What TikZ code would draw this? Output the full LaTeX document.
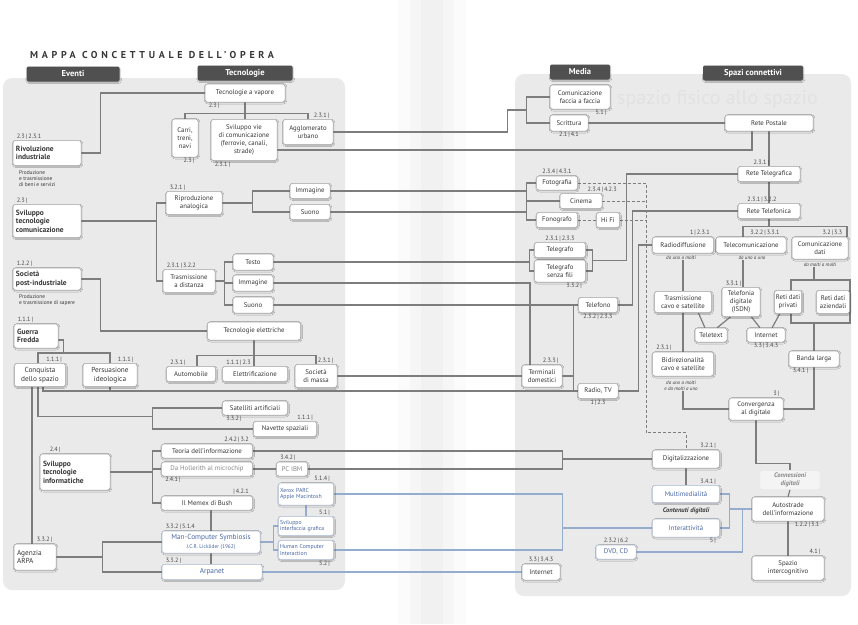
\documentclass[tikz,border=0pt]{standalone}
\usepackage{fontspec}
\setmainfont{PT Sans}
\newfontfamily\titlefont[LetterSpace=37]{PT Sans}
\usepackage{tikz}
\usetikzlibrary{positioning, calc, backgrounds, shadows.blur}
\usepackage{xcolor}
\definecolor{hdrgray}{RGB}{80,80,80}
\definecolor{boxline}{RGB}{165,165,165}
\definecolor{boxblue}{RGB}{175,190,215}
\definecolor{linegray}{RGB}{125,125,125}
\definecolor{lineblue}{RGB}{150,172,205}
\definecolor{txtgray}{RGB}{55,55,55}
\definecolor{txtblue}{RGB}{72,102,165}
\definecolor{txtlight}{RGB}{135,135,135}
\definecolor{refgray}{RGB}{70,70,70}
\definecolor{panelgray}{RGB}{234,234,234}
\definecolor{ghost}{RGB}{226,226,226}
\definecolor{gutter1}{RGB}{251,251,251}
\definecolor{gutter2}{RGB}{246,246,246}
\definecolor{gutter3}{RGB}{241,241,241}
\newcommand\fshdr{\fontsize{8.5}{9}\selectfont\bfseries}
\newcommand\fsevt{\fontsize{7.5}{8.6}\selectfont\bfseries}
\newcommand\fsevr{\fontsize{7.3}{8.4}\selectfont}
\newcommand\fsbox{\fontsize{6.8}{7.9}\selectfont}
\newcommand\fssmall{\fontsize{5.8}{6.8}\selectfont}
\newcommand\fsref{\fontsize{6.2}{7}\selectfont}
\newcommand\fsnote{\fontsize{5.4}{6.2}\selectfont}
\newcommand\fsmode{\fontsize{5}{5.8}\selectfont\itshape}
\newcommand\fstag{\fontsize{6.6}{7.4}\selectfont\bfseries\itshape}
\tikzset{
  % soft drop shadow for the boxes
  softshadow/.style={blur shadow={shadow xshift=0.6pt, shadow yshift=-0.8pt,
    shadow blur radius=1.2pt, shadow blur steps=4, shadow opacity=30}},
  % column header
  header/.style={
    rectangle, rounded corners=2pt, fill=hdrgray, text=white,
    font=\fshdr, minimum height=15pt, inner sep=1pt, softshadow
  },
  % event box (bold, left aligned)
  evbox/.style={
    rectangle, rounded corners=2.5pt, fill=white, draw=boxline, line width=0.5pt,
    text=txtgray, font=\fsevt, align=left, inner sep=3pt, softshadow
  },
  evboxr/.style={evbox, font=\fsevr},
  % concept box
  tbox/.style={
    rectangle, rounded corners=2.5pt, fill=white, draw=boxline, line width=0.5pt,
    text=txtgray, font=\fsbox, align=center, inner sep=1.5pt, softshadow
  },
  tboxblue/.style={tbox, text=txtblue, draw=boxblue},
  tboxgrey/.style={tbox, text=txtlight},
  % reference numbers
  ref/.style={font=\fsref, text=refgray, inner sep=0.8pt},
  numTL/.style={label={[ref, anchor=south west, xshift=3pt]north west:#1}},
  numTR/.style={label={[ref, anchor=south east, xshift=-3pt]north east:#1}},
  numBL/.style={label={[ref, anchor=north west, xshift=3pt]south west:#1}},
  numBR/.style={label={[ref, anchor=north east, xshift=-3pt]south east:#1}},
  numT/.style={label={[ref, anchor=south]north:#1}},
  numB/.style={label={[ref, anchor=north]south:#1}},
  % small texts
  notetext/.style={font=\fsnote, text=txtgray, align=left, inner sep=0pt},
  modetext/.style={font=\fsmode, text=txtgray, align=center, inner sep=0pt},
  tagtext/.style={font=\fstag, text=txtgray, inner sep=0pt},
  % connectors
  link/.style={draw=linegray, line width=1.2pt},
  linkblue/.style={draw=lineblue, line width=1.2pt},
  linkdash/.style={draw=linegray, line width=1pt, dash pattern=on 3pt off 2pt},
}

\begin{document}
\begin{tikzpicture}[x=1pt, y=-1pt]
\useasboundingbox (0,0) rectangle (858,624);

\node[anchor=west, inner sep=0pt, text=txtgray, font=\titlefont\fontsize{10}{11}\selectfont\bfseries] (titolo) at (30,55) {MAPPA CONCETTUALE DELL’OPERA};

% headers
\node[header, minimum width=93pt] (hEv) at (73,74) {Eventi};
\node[header, minimum width=95pt] (hTe) at (245,73) {Tecnologie};
\node[header, minimum width=60pt] (hMe) at (580,72) {Media};
\node[header, minimum width=100pt] (hSp) at (753,73) {Spazi connettivi};

% Eventi
\node[evbox, text width=62pt, minimum height=25pt, numTL={2.3\,|\,2.3.1}] (rivind) at (47,153) {Rivoluzione\\industriale};
\node[notetext, anchor=north west] (notariv) at (19,170) {Produzione\\e trasmissione\\di beni e servizi};
\node[evbox, text width=62pt, minimum height=33pt, numTL={2.3\,|}] (svcom) at (47,221) {Sviluppo\\tecnologie\\comunicazione};
\node[evbox, text width=62pt, minimum height=22pt, numTL={1.2.2\,|}] (postind) at (47,279) {Società\\post-industriale};
\node[notetext, anchor=north west] (notapost) at (19,294) {Produzione\\e trasmissione di sapere};
\node[evbox, text width=38pt, minimum height=24pt, numTL={1.1.1\,|}] (guerra) at (36,336) {Guerra\\Fredda};
\node[tbox, font=\fsevr, minimum width=51pt, minimum height=23pt, numTR={1.1.1\,|}] (conq) at (40,375) {Conquista\\dello spazio};
\node[tbox, font=\fsevr, minimum width=54pt, minimum height=23pt, numTR={1.1.1\,|}] (pers) at (110,375) {Persuasione\\ideologica};
\node[evbox, text width=64pt, minimum height=36pt, label={[ref, anchor=south west, xshift=9pt]north west:2.4\,|}] (svinf) at (75,472) {Sviluppo\\tecnologie\\informatiche};
\node[evboxr, text width=36pt, minimum height=26pt, numTR={3.3.2\,|}] (arpa) at (35,557) {Agenzia\\ARPA};

% Tecnologie
\node[tbox, minimum width=80pt, minimum height=18pt, numBL={2.3\,|}] (vapore) at (245,93) {Tecnologie a vapore};
\node[tbox, minimum width=26pt, minimum height=38pt, numBR={2.3\,|}] (carri) at (185,138) {Carri,\\treni,\\navi};
\node[tbox, minimum width=66pt, minimum height=41pt, numBL={2.3.1\,|}] (vie) at (244,140) {Sviluppo vie\\di comunicazione\\(ferrovie, canali,\\strade)};
\node[tbox, minimum width=50pt, minimum height=25pt, numTR={2.3.1\,|}] (aggl) at (308,132) {Agglomerato\\urbano};
\node[tbox, minimum width=56pt, minimum height=23pt, numTL={3.2.1\,|}] (riprod) at (194,203) {Riproduzione\\analogica};
\node[tbox, minimum width=40pt, minimum height=15pt] (imm1) at (310,191) {Immagine};
\node[tbox, minimum width=40pt, minimum height=15pt] (suono1) at (310,212) {Suono};
\node[tbox, minimum width=52pt, minimum height=23pt, numTL={2.3.1\,|\,3.2.2}] (trasm) at (189,281) {Trasmissione\\a distanza};
\node[tbox, minimum width=40pt, minimum height=16pt] (testo) at (253,262) {Testo};
\node[tbox, minimum width=40pt, minimum height=16pt] (imm2) at (253,283) {Immagine};
\node[tbox, minimum width=40pt, minimum height=16pt] (suono2) at (253,305) {Suono};
\node[tbox, minimum width=93pt, minimum height=18pt] (elettr) at (254,331) {Tecnologie elettriche};
\node[tbox, minimum width=49pt, minimum height=15pt, numTL={2.3.1\,|}] (automob) at (191,374) {Automobile};
\node[tbox, minimum width=65pt, minimum height=15pt, numTL={1.1.1\,|\,2.3}] (elettrif) at (255,374) {Elettrificazione};
\node[tbox, minimum width=42pt, minimum height=23pt, numTR={2.3.1\,|}] (massa) at (316,376) {Società\\di massa};
\node[tbox, minimum width=65pt, minimum height=14pt, numBL={3.3.2\,|}] (satell) at (255,408) {Satelliti artificiali};
\node[tbox, minimum width=63pt, minimum height=15pt, numTR={1.1.1\,|}] (navette) at (285,429) {Navette spaziali};
\node[tbox, minimum width=91pt, minimum height=14pt, numTR={2.4.2\,|\,3.2}] (teoria) at (207,451) {Teoria dell’informazione};
\node[tboxgrey, minimum width=91pt, minimum height=14pt, numBL={2.4.1\,|}] (holler) at (207,469) {Da Hollerith al microchip};
\node[tbox, minimum width=91pt, minimum height=14pt, numTR={|\,4.2.1}] (memex) at (207,503) {Il Memex di Bush};
\node[tboxblue, font=\fsevr, minimum width=98pt, minimum height=22pt, numTL={3.3.2\,|\,5.1.4}] (mcs) at (211,542) {Man-Computer Symbiosis\\{\fsnote J.C.R. Licklider (1962)}};
\node[tboxblue, font=\fsevr, minimum width=100pt, minimum height=15pt, numTL={3.3.2\,|}] (arpanet) at (212,572) {Arpanet};
\node[tboxgrey, minimum width=31pt, minimum height=14pt, numTL={3.4.2\,|}] (pcibm) at (292,469) {PC IBM};
\node[tboxblue, font=\fssmall, text width=52pt, align=left, minimum height=22pt, numTR={5.1.4\,|}] (xerox) at (306,494) {Xerox PARC\\Apple Macintosh};
\node[tboxblue, font=\fssmall, text width=52pt, align=left, minimum height=19pt, numTR={5.1\,|}] (svintf) at (306,526) {Sviluppo\\interfaccia grafica};
\node[tboxblue, font=\fssmall, text width=52pt, align=left, minimum height=19pt, numBR={5.2\,|}] (hci) at (306,550) {Human Computer\\Interaction};

% Media
\node[tbox, minimum width=60pt, minimum height=24pt, numBR={5.1\,|}] (faccia) at (580,97) {Comunicazione\\faccia a faccia};
\node[tbox, minimum width=38pt, minimum height=16pt, numB={2.1\,|\,4.1}] (scritt) at (569,123) {Scrittura};
\node[tbox, minimum width=41pt, minimum height=14pt, numT={2.3.4\,|\,4.3.1}] (foto) at (557,183) {Fotografia};
\node[tbox, minimum width=42pt, minimum height=15pt, label={[ref, anchor=south]north east:2.3.4\,|\,4.2.3}] (cinema) at (581,201) {Cinema};
\node[tbox, minimum width=41pt, minimum height=15pt] (fono) at (557,220) {Fonografo};
\node[tbox, minimum width=23pt, minimum height=15pt] (hifi) at (608,220) {Hi Fi};
\node[tbox, minimum width=51pt, minimum height=15pt, numT={2.3.1\,|\,2.3.3}] (telegr) at (560,250) {Telegrafo};
\node[tbox, minimum width=51pt, minimum height=22pt, numBR={3.3.2\,|}] (senzafili) at (560,271) {Telegrafo\\senza fili};
\node[tbox, minimum width=39pt, minimum height=15pt, numB={2.3.2\,|\,2.3.3}] (telef) at (598,305) {Telefono};
\node[tbox, minimum width=40pt, minimum height=22pt, numTR={2.3.3\,|}] (termin) at (542,376) {Terminali\\domestici};
\node[tbox, minimum width=40pt, minimum height=15pt, numB={1\,|\,2.3}] (radiotv) at (598,391) {Radio, TV};
\node[tbox, minimum width=67pt, minimum height=18pt, numTR={3.2.1\,|}] (digit) at (686,459) {Digitalizzazione};
\node[tboxblue, minimum width=67pt, minimum height=17pt, numTR={3.4.1\,|}] (multim) at (686,494) {Multimedialità};
\node[tagtext] (contenuti) at (686,511) {Contenuti digitali};
\node[tboxblue, minimum width=67pt, minimum height=18pt, numBR={5\,|}] (interatt) at (686,528) {Interattività};
\node[tboxblue, minimum width=40pt, minimum height=14pt, numT={2.3.2\,|\,6.2}] (dvd) at (616,552) {DVD, CD};
\node[tbox, minimum width=38pt, minimum height=16pt, numT={3.3\,|\,3.4.3}] (internetm) at (541,572) {Internet};

% Spazi connettivi
\node[tbox, minimum width=88pt, minimum height=16pt] (postale) at (769,123) {Rete Postale};
\node[tbox, minimum width=62pt, minimum height=15pt, label={[ref, anchor=south east, xshift=1pt]north:2.3.1\,|}] (telegrafica) at (769,174) {Rete Telegrafica};
\node[tbox, minimum width=62pt, minimum height=15pt, label={[ref, anchor=south, xshift=-7pt]north:2.3.1\,|\,3.2.2}] (telefonica) at (769,211) {Rete Telefonica};
\node[tbox, minimum width=61pt, minimum height=16pt, numTR={1\,|\,2.3.1}] (radiod) at (683,245) {Radiodiffusione};
\node[tbox, minimum width=70pt, minimum height=16pt, label={[ref, anchor=south, xshift=14pt]north:3.2.2\,|\,3.3.1}] (telecom) at (751,245) {Telecomunicazione};
\node[tbox, minimum width=56pt, minimum height=22pt, label={[ref, anchor=south east, xshift=-5pt]north east:3.2\,|\,3.3}] (comdati) at (820,248) {Comunicazione\\dati};
\node[modetext] (modorad) at (681,258) {da uno a molti};
\node[modetext] (modotel) at (752,258) {da uno a uno};
\node[modetext] (mododat) at (820,265) {da molti a molti};
\node[tbox, minimum width=57pt, minimum height=21pt] (trcavo) at (683,302) {Trasmissione\\cavo e satellite};
\node[tbox, minimum width=38pt, minimum height=29pt, numTL={3.3.1\,|}] (teldig) at (741,302) {Telefonia\\digitale\\(ISDN)};
\node[draw=linegray, line width=1.2pt, minimum width=59pt, minimum height=43pt, inner sep=0pt] (rbox) at (820.5,301.5) {};
\node[tbox, minimum width=27pt, minimum height=23pt] (retipriv) at (788,302) {Reti dati\\privati};
\node[tbox, minimum width=33pt, minimum height=23pt] (retiaz) at (833,302) {Reti dati\\aziendali};
\node[tbox, minimum width=32pt, minimum height=14pt] (teletext) at (711,335) {Teletext};
\node[tbox, minimum width=38pt, minimum height=14pt, numB={3.3\,|\,3.4.3}] (internets) at (766,335) {Internet};
\node[tbox, minimum width=61pt, minimum height=24pt, numTL={2.3.1\,|}] (bidir) at (683,364) {Bidirezionalità\\cavo e satellite};
\node[modetext] (modobid) at (681,386) {da uno a molti\\e da molti a uno};
\node[tbox, minimum width=50pt, minimum height=16pt, numBL={3.4.1\,|}] (banda) at (814,359) {Banda larga};
\node[tbox, minimum width=54pt, minimum height=22pt, numTR={3\,|}] (converg) at (756,409) {Convergenza\\al digitale};
\node[tagtext, text=txtlight, align=center, draw=black!10, fill=white, fill opacity=0.5, text opacity=1, rounded corners=2pt, minimum width=60pt, minimum height=19pt] (conness) at (790,480) {Connessioni\\digitali};
\node[tbox, minimum width=72pt, minimum height=24pt, label={[ref, anchor=north, xshift=19pt]south:1.2.2\,|\,3.1}] (autostr) at (788,509) {Autostrade\\dell’informazione};
\node[tbox, minimum width=72pt, minimum height=24pt, numTR={4.1\,|}] (spazio) at (788,568) {Spazio\\intercognitivo};

% bracket points
\coordinate (lbr) at ([xshift=-9pt]riprod.west);
\coordinate (rbr) at ([xshift=-37pt]imm1.west);
\coordinate (tbr) at ([xshift=-8pt]testo.west);
\coordinate (ibr) at ([xshift=-9pt]teoria.west);
\coordinate (abr) at ([xshift=-59pt]mcs.west);
\coordinate (sbr) at ([xshift=-69.5pt]satell.west);
\coordinate (mbr1) at ([xshift=-23pt]scritt.west);
\coordinate (fbr) at ([xshift=-10pt]foto.west);
\coordinate (tgl) at ([xshift=-5pt]telegr.west);
\coordinate (dbr) at ([xshift=-90pt]digit.west);
\coordinate (ibr2) at ([xshift=-90pt]interatt.west);
\coordinate (dvt) at ([xshift=-40pt, yshift=17pt]digit.north);

\begin{pgfonlayer}{background}
  % page and panels
  \fill[gutter1] (398,0) rectangle (466,624);
  \fill[gutter2] (410,0) rectangle (454,624);
  \fill[gutter3] (421,0) rectangle (443,624);
  \fill[panelgray, rounded corners=9pt] (3,78) rectangle (345,590);
  \fill[panelgray, rounded corners=9pt] (515,74) rectangle (851,596);
  \node[font=\fontsize{20}{22}\selectfont, text=ghost, anchor=west, inner sep=0pt] (filigrana) at (617,99) {spazio fisico allo spazio};

  % eventi -> tecnologie
  \draw[link] (rivind.east) -- ++(19,0) |- (vapore.west);
  \draw[link] (vapore.south) -- ++(0,11) coordinate (vbus);
  \draw[link] (carri.north) |- (vbus) -| (aggl.north);
  \draw[link] (vbus) -- (vbus |- vie.north);
  \draw[link] (svcom.east) -- (svcom.east -| lbr);
  \draw[link] (riprod.west) -- (lbr) |- (trasm.west);
  \draw[link] (riprod.east) -- (riprod.east -| rbr);
  \draw[link] (imm1.west) -| (rbr) |- (suono1.west);
  \draw[link] (trasm.east) -- (trasm.east -| tbr);
  \draw[link] (testo.west) -| (tbr) |- (suono2.west);
  \draw[link] (imm2.west) -- (imm2.west -| tbr);
  \draw[link] (postind.east) -- ++(19,0) |- (elettr.west);
  \draw[link] (elettr.south) -- ++(0,15) coordinate (ebus);
  \draw[link] ([xshift=6pt]automob.north) |- (ebus) -| (massa.north);
  \draw[link] (ebus) -- (ebus |- elettrif.north);
  \draw[link] ([yshift=-4pt]guerra.east) -- ++(5,0) -- ++(0,13) coordinate (gbus);
  \draw[link] ([xshift=-2pt]conq.north) |- (gbus) -| (pers.north);
  \draw[link] ([xshift=3pt]conq.south) |- (radiotv.west);
  \draw[link] (pers.south) -- (pers.south |- radiotv.west);
  \draw[link] ([xshift=-2pt]conq.south) -- ++(0,30) -| (sbr);
  \draw[link] (satell.west) -| (sbr) |- (navette.west);
  \draw[link] ([xshift=-8pt]conq.south) -- ([xshift=-8pt]conq.south |- arpa.north);
  \draw[link] (svinf.east) -- (svinf.east -| ibr);
  \draw[link] (teoria.west) -| (ibr) |- (memex.west);
  \draw[link] (holler.west) -- (holler.west -| ibr);
  \draw[link] (holler.east) -- (pcibm.west);
  \draw[link] (memex.south -| mcs.north) -- (mcs.north);
  \draw[link] (mcs.south) -- (mcs.south |- arpanet.north);
  \draw[link] (mcs.west) -| (abr) |- (arpanet.west);
  \draw[link] (arpa.east) -- (arpa.east -| abr);
  \draw[linkblue] (svintf.west) -- ++(-5,0) coordinate (mbr) |- (hci.west);
  \draw[linkblue] (mcs.east) -- (mcs.east -| mbr);
  \draw[linkblue] (xerox.south) -- (svintf.north);
  % tecnologie -> media
  \draw[link] (aggl.east) -- ++(174,0) -- ++(0,-22) -- ++(20,0);
  \draw[link] (faccia.west) -| (mbr1) -- (scritt.west);
  \draw[link] ([yshift=-10pt]vie.east) -| ([xshift=-17pt]postale.south);
  \draw[link] (imm1.east) -- (imm1.east -| fbr);
  \draw[link] (suono1.east) -- (suono1.east -| fbr);
  \draw[link] (foto.west) -| (fbr) |- (fono.west);
  \draw[link] (cinema.west) -- (cinema.west -| fbr);
  \draw[link] (testo.east) -- (testo.east -| tgl);
  \draw[link] (telegr.west) -- (tgl) |- (senzafili.west);
  \draw[link] (telegr.east) -- ++(7,0) |- (senzafili.east);
  \draw[link] ($(telegr.east)!0.5!(senzafili.east)+(7,0)$) -- ++(34,0) |- (telegrafica.west);
  \draw[link] (imm2.east) -| ([xshift=-12pt]termin.north);
  \draw[link] (telef.west) -- ++(-5,0) coordinate (tfl) |- (radiotv.west);
  \draw[link] (suono2.east) -- (suono2.east -| tfl);
  \draw[link] (termin.east) -- (termin.east -| tfl);
  \draw[link] (massa.east) -- (massa.east -| termin.west);
  \draw[link] (teoria.east) -| (dbr) |- (pcibm.east);
  \draw[link] (dbr) -- (digit.west);
  \draw[linkblue] (xerox.east) -| (ibr2) |- (hci.east);
  \draw[linkblue] (ibr2) -- (interatt.west);
  \draw[linkblue] (arpanet.east) -- (arpanet.east -| internetm.west);
  % dashed media -> digitalizzazione
  \draw[linkdash] (foto.east) -| (dvt) -| (digit.north);
  \draw[linkdash] (cinema.east) -- (cinema.east -| dvt);
  \draw[linkdash] (hifi.east) -- (hifi.east -| dvt);
  \draw[linkdash] (fono.east) -- (hifi.west);
  % media -> spazi connettivi
  \draw[link] (scritt.east) -- (postale.west);
  \draw[link] (telef.east) -- ++(15,0) |- (telefonica.west);
  \draw[link] (radiotv.east) -- ++(20,0) |- (radiod.west);
  \draw[link] (digit.south) -- (multim.north);
  \draw[linkblue] (multim.east) -- ++(10,0) coordinate (cbr) |- (interatt.east);
  \draw[linkblue] (autostr.west) -- (autostr.west -| cbr);
  \draw[linkblue] (dvd.east) -| ([xshift=-9pt]autostr.west);
  % spazi connettivi
  \draw[link] (postale) -- (telegrafica) -- (telefonica);
  \draw[link] (telefonica.south) -- ++(0,8) coordinate (sbus);
  \draw[link] ([xshift=-8pt]telecom.north) |- (sbus) -| ([xshift=27pt]comdati.north);
  \draw[link] (radiod.south |- modorad.south) -- (trcavo.north);
  \draw[link] (trcavo.south) -- (bidir.north);
  \draw[link] (bidir.south |- modobid.south) |- (converg.west);
  \draw[link] ([xshift=-8pt]telecom.south |- modotel.south) -- ([xshift=-8pt]telecom.south |- teldig.north);
  \draw[link] (trcavo.-35) -- (teletext.130);
  \draw[link] (teldig.-125) -- (teletext.50);
  \draw[link] (teldig.-55) -- (internets.130);
  \draw[link] (retipriv.-125) -- (internets.50);
  \draw[link] (banda.north |- rbox.north) -- (banda.north |- mododat.south);
  \draw[link] (banda.north |- rbox.south) -- (banda.north);
  \draw[link] (banda.south) |- (converg.east);
  \draw[link] (converg.south) -- ++(0,43) -| (conness.north);
  \draw[link] (conness.south) -- (autostr.north);
  \draw[link] (autostr.south) -- (spazio.north);
\end{pgfonlayer}
\end{tikzpicture}
\end{document}
